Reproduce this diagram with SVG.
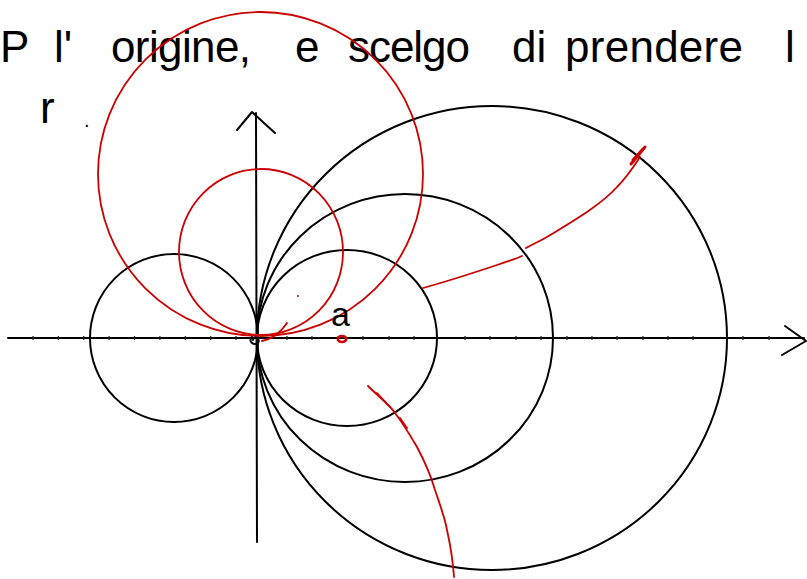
<svg xmlns="http://www.w3.org/2000/svg" width="807" height="579" viewBox="0 0 807 579">
<style>
.k{fill:none;stroke:#000;stroke-width:2;stroke-linecap:round;stroke-linejoin:round}
.r{fill:none;stroke:#cc0000;stroke-width:1.8;stroke-linecap:round;stroke-linejoin:round}
.t{font-family:"Liberation Sans",Arial,sans-serif;font-size:44px;fill:#000}
.tick{stroke:#222;stroke-width:1.2}
</style>
<rect width="807" height="579" fill="#fff"/>
<g id="text">
<text class="t" x="0" y="62">P</text>
<text class="t" x="54" y="62">l'</text>
<text class="t" x="111" y="62" textLength="140" lengthAdjust="spacing">origine,</text>
<text class="t" x="295" y="62">e</text>
<text class="t" x="348" y="62" textLength="122" lengthAdjust="spacing">scelgo</text>
<text class="t" x="512" y="62">di</text>
<text class="t" x="565" y="62" textLength="178" lengthAdjust="spacing">prendere</text>
<text class="t" x="785" y="62">l</text>
<text class="t" x="40" y="123">r</text>
<text class="t" x="84" y="127" style="font-size:20px">.</text>
</g>
<g id="axes">
<line class="k" x1="8" y1="338" x2="804" y2="338"/>
<polyline class="k" points="785,326 806,341 782,355"/>
<line class="k" x1="257" y1="542" x2="256" y2="113"/>
<polyline class="k" points="237,130 252,112 275,133"/>
<g id="ticks">
<line class="tick" x1="33" y1="336" x2="33" y2="340"/><line class="tick" x1="58.4" y1="336" x2="58.4" y2="340"/><line class="tick" x1="83.8" y1="336" x2="83.8" y2="340"/><line class="tick" x1="109.1" y1="336" x2="109.1" y2="340"/><line class="tick" x1="134.5" y1="336" x2="134.5" y2="340"/><line class="tick" x1="159.9" y1="336" x2="159.9" y2="340"/><line class="tick" x1="185.3" y1="336" x2="185.3" y2="340"/><line class="tick" x1="210.7" y1="336" x2="210.7" y2="340"/><line class="tick" x1="236" y1="336" x2="236" y2="340"/><line class="tick" x1="287" y1="336" x2="287" y2="340"/><line class="tick" x1="312" y1="336" x2="312" y2="340"/><line class="tick" x1="338" y1="336" x2="338" y2="340"/><line class="tick" x1="363" y1="336" x2="363" y2="340"/><line class="tick" x1="389" y1="336" x2="389" y2="340"/><line class="tick" x1="414" y1="336" x2="414" y2="340"/><line class="tick" x1="465" y1="336" x2="465" y2="340"/><line class="tick" x1="490" y1="336" x2="490" y2="340"/><line class="tick" x1="516" y1="336" x2="516" y2="340"/><line class="tick" x1="541" y1="336" x2="541" y2="340"/><line class="tick" x1="567" y1="336" x2="567" y2="340"/><line class="tick" x1="592" y1="336" x2="592" y2="340"/><line class="tick" x1="617" y1="336" x2="617" y2="340"/><line class="tick" x1="643" y1="336" x2="643" y2="340"/><line class="tick" x1="668" y1="336" x2="668" y2="340"/><line class="tick" x1="693" y1="336" x2="693" y2="340"/><line class="tick" x1="743" y1="336" x2="743" y2="340"/><line class="tick" x1="769" y1="336" x2="769" y2="340"/>
</g>
</g>
<g id="black-circles">
<ellipse class="k" cx="174" cy="338" rx="84" ry="84"/>
<ellipse class="k" cx="347" cy="338" rx="90" ry="88"/>
<ellipse class="k" cx="405" cy="338" rx="148" ry="144"/>
<ellipse class="k" cx="492" cy="338" rx="235" ry="232"/>
</g>
<g id="red-circles">
<ellipse class="r" cx="261" cy="252" rx="82" ry="83"/>
<ellipse class="r" cx="260.5" cy="174" rx="162.5" ry="162"/>
</g>
<g id="origin">
<path class="k" d="M252,337 c-3,3 -1,7 3,7 c4,0 5,-4 2,-6 c-2,-1 -4,0 -4,2"/>
<path class="r" d="M262,341 Q277,338 287,323"/>
<circle cx="298" cy="296" r="1" fill="#cc0000"/>
</g>
<g id="point-a">
<ellipse cx="342" cy="339" rx="4.2" ry="3" fill="none" stroke="#cc0000" stroke-width="2.6"/>
<text x="331" y="326" style="font-family:'Liberation Sans',Arial,sans-serif;font-size:34px;fill:#000">a</text>
</g>
<g id="red-curves">
<path class="r" d="M423,288 C445,282 470,274 497,265 C508,261 516,259 522,256"/>
<path class="r" d="M526,248 C535,243 542,240 547,237 C562,228 575,220 587,212 C600,203 610,195 617,187 C624,180 629,174 640,157"/>
<path class="r" style="stroke-width:3" d="M631,164 L645,147 M633,160 L643,149"/>
<path class="r" d="M368,386 C380,398 390,405 395,413 C402,422 410,435 417,447 C425,462 431,476 435,490 C441,508 445,518 447,530 C451,548 453,562 454,577"/>
<path class="r" d="M377,393 L390,407 M400,418 L407,428"/>
</g>
</svg>
